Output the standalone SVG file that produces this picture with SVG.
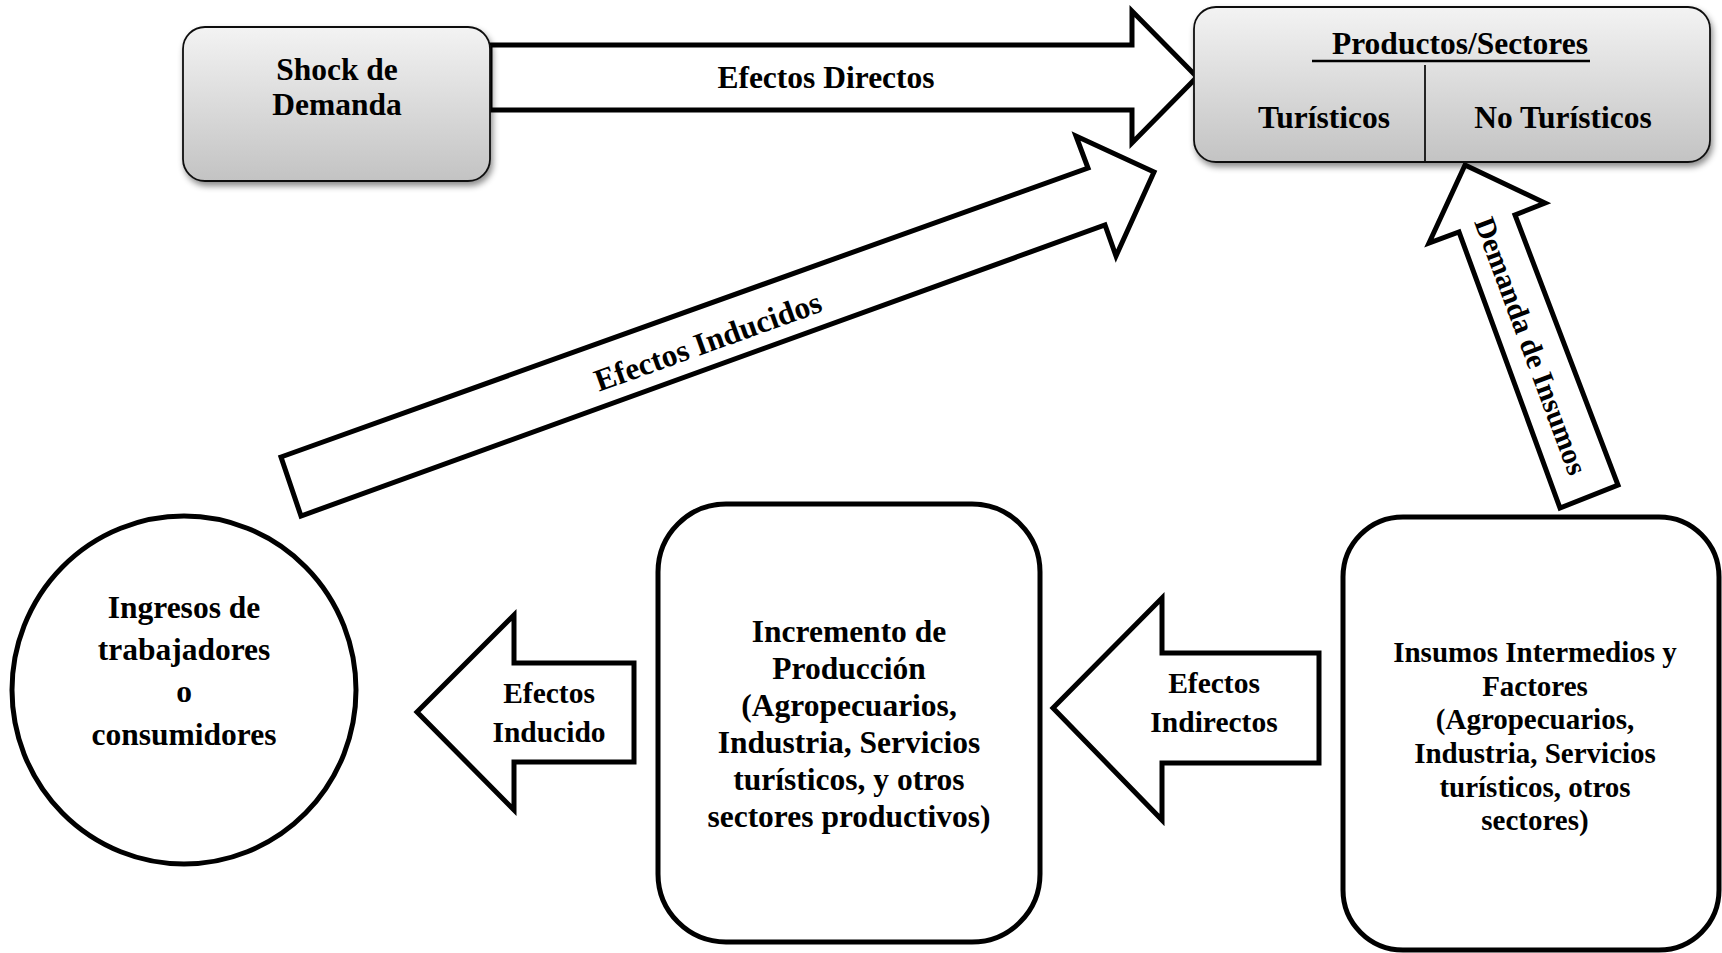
<svg xmlns="http://www.w3.org/2000/svg" width="1722" height="953" viewBox="0 0 1722 953">
<defs>
<linearGradient id="gray" x1="0" y1="0" x2="0" y2="1">
<stop offset="0" stop-color="#f3f3f3"/>
<stop offset="1" stop-color="#c3c3c3"/>
</linearGradient>
<filter id="shadow" x="-10%" y="-10%" width="120%" height="130%">
<feDropShadow dx="2" dy="4" stdDeviation="3" flood-color="#000" flood-opacity="0.45"/>
</filter>
</defs>
<style>
text{font-family:"Liberation Serif","Times New Roman",serif;font-weight:bold;fill:#000;text-anchor:middle}
.gbox{fill:url(#gray);stroke:#111;stroke-width:1.8;filter:url(#shadow)}
.box{fill:#fff;stroke:#000;stroke-width:5}
.arrow{fill:#fff;stroke:#000;stroke-width:5;stroke-linejoin:miter}
.t32{font-size:31.5px}
.t30{font-size:29.5px}
.t29{font-size:29px}
</style>
<rect width="1722" height="953" fill="#fff"/>

<g id="connectors">
<g id="efectos-directos">
<polygon class="arrow" points="490,45 1132,45 1132,11 1197,77 1132,143 1132,110 490,110"/>
<text class="t32" x="826" y="88">Efectos Directos</text>
</g>
<g id="efectos-inducidos">
<polygon class="arrow" points="281,457 1088,168 1076,136 1154,172 1116,256 1105,225 301,516"/>
<text class="t32" transform="translate(708,342) rotate(-19.8)" x="0" y="10">Efectos Inducidos</text>
</g>
<g id="demanda-insumos">
<polygon class="arrow" points="1465,165 1545,203 1515,215 1618,485 1560,508 1459,232 1429,243"/>
<text class="t30" transform="translate(1531,346) rotate(69.5)" x="0" y="10">Demanda de Insumos</text>
</g>
<g id="efectos-inducido">
<polygon class="arrow" points="417,712 514,615 514,663 634,663 634,762 514,762 514,810"/>
<text class="t30" x="549" y="703">Efectos</text>
<text class="t30" x="549" y="742">Inducido</text>
</g>
<g id="efectos-indirectos">
<polygon class="arrow" points="1053,708 1162,598 1162,653 1319,653 1319,763 1162,763 1162,820"/>
<text class="t30" x="1214" y="693">Efectos</text>
<text class="t30" x="1214" y="732">Indirectos</text>
</g>
</g>

<g id="shock">
<rect class="gbox" x="183" y="27" width="307" height="154" rx="22"/>
<text class="t32" x="337" y="80">Shock de</text>
<text class="t32" x="337" y="115">Demanda</text>
</g>

<g id="productos">
<rect class="gbox" x="1194" y="7" width="516" height="155" rx="22"/>
<text class="t32" x="1460" y="54">Productos/Sectores</text>
<line x1="1312" y1="61" x2="1590" y2="61" stroke="#000" stroke-width="2.5"/>
<line x1="1425" y1="65" x2="1425" y2="161" stroke="#111" stroke-width="1.8"/>
<text class="t32" x="1324" y="128">Turísticos</text>
<text class="t32" x="1563" y="128">No Turísticos</text>
</g>

<g id="ingresos">
<ellipse class="box" cx="184" cy="690" rx="172" ry="174"/>
<text class="t32" x="184" y="618">Ingresos de</text>
<text class="t32" x="184" y="660">trabajadores</text>
<text class="t32" x="184" y="702">o</text>
<text class="t32" x="184" y="745">consumidores</text>
</g>

<g id="incremento">
<rect class="box" x="658" y="504" width="382" height="438" rx="68"/>
<text class="t32" x="849" y="642">Incremento de</text>
<text class="t32" x="849" y="679">Producción</text>
<text class="t32" x="849" y="716">(Agropecuarios,</text>
<text class="t32" x="849" y="753">Industria, Servicios</text>
<text class="t32" x="849" y="790">turísticos, y otros</text>
<text class="t32" x="849" y="827">sectores productivos)</text>
</g>

<g id="insumos">
<rect class="box" x="1343" y="517" width="376" height="433" rx="60"/>
<text class="t29" x="1535" y="662">Insumos Intermedios y</text>
<text class="t29" x="1535" y="696">Factores</text>
<text class="t29" x="1535" y="729">(Agropecuarios,</text>
<text class="t29" x="1535" y="763">Industria, Servicios</text>
<text class="t29" x="1535" y="797">turísticos, otros</text>
<text class="t29" x="1535" y="830">sectores)</text>
</g>
</svg>
